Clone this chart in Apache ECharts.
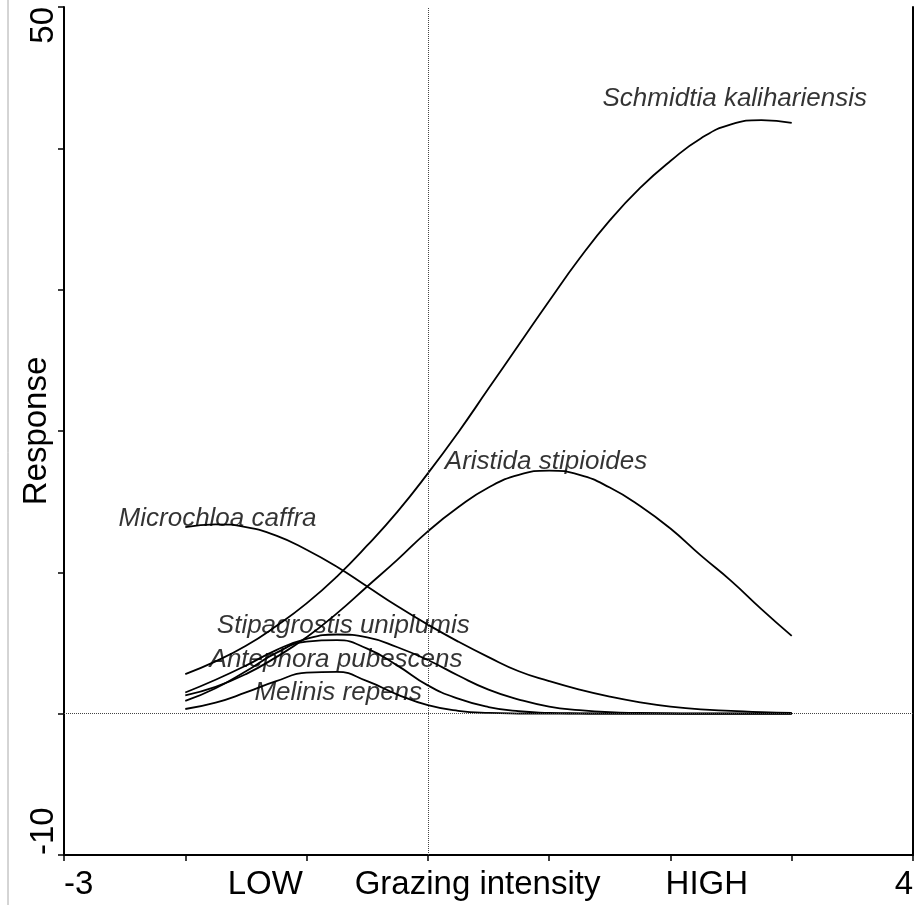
<!DOCTYPE html>
<html>
<head>
<meta charset="utf-8">
<script src="https://cdn.jsdelivr.net/npm/echarts@6/dist/echarts.min.js"></script>
<style>
  html, body { margin: 0; padding: 0; background: #fff; }
  #chart { width: 917px; height: 905px; }
</style>
</head>
<body>
<div id="chart"></div>
<script>
// grazing intensity, -2 .. 3 in steps of 0.25
var xs = [-2, -1.75, -1.5, -1.25, -1, -0.75, -0.5, -0.25, 0, 0.25, 0.5, 0.75, 1, 1.25, 1.5, 1.75, 2, 2.25, 2.5, 2.75, 3];

var schmidtia    = [2.8, 3.7, 4.8, 6.2, 7.8, 9.7, 11.9, 14.3, 17.0, 19.9, 23.0, 26.1, 29.2, 32.2, 34.9, 37.2, 39.1, 40.7, 41.7, 42.0, 41.8];
var aristida     = [1.3, 1.9, 2.8, 4.0, 5.4, 7.1, 9.0, 10.9, 12.9, 14.6, 16.0, 16.9, 17.2, 16.9, 16.0, 14.7, 13.1, 11.2, 9.4, 7.4, 5.5];
var microchloa   = [13.2, 13.4, 13.2, 12.6, 11.6, 10.4, 9.0, 7.6, 6.3, 5.1, 4.0, 3.0, 2.3, 1.7, 1.2, 0.8, 0.5, 0.3, 0.2, 0.1, 0.05];
var stipagrostis = [1.5, 2.4, 3.4, 4.5, 5.3, 5.6, 5.4, 4.7, 3.8, 2.7, 1.7, 1.0, 0.5, 0.25, 0.1, 0.05, 0.02, 0, 0, 0, 0];
var antephora    = [0.9, 1.8, 3.0, 4.3, 5.1, 5.2, 4.6, 3.4, 2.0, 1.06, 0.47, 0.17, 0.06, 0.02, 0, 0, 0, 0, 0, 0, 0];
var melinis      = [0.33, 0.78, 1.5, 2.3, 2.9, 2.95, 2.3, 1.35, 0.6, 0.2, 0.05, 0.01, 0, 0, 0, 0, 0, 0, 0, 0, 0];

var species = ['Schmidtia kalihariensis', 'Aristida stipioides', 'Microchloa caffra',
               'Stipagrostis uniplumis', 'Antephora pubescens', 'Melinis repens'];
var curves = [schmidtia, aristida, microchloa, stipagrostis, antephora, melinis];
// where each species name starts (left edge, text middle), in data units
var labelAt = [[1.44, 43.5], [0.14, 17.8], [-2.55, 13.8], [-1.74, 6.2], [-1.8, 3.8], [-1.43, 1.5]];

var xTicks = [-3, -2, -1, 0, 1, 2, 3, 4];
var xLabelValues = [-3, -1.34, 0.41, 2.3, 4];
var xLabelTexts = ['-3', 'LOW', 'Grazing intensity', 'HIGH', '4'];
var yLabelValues = [-10, 50];

var font = '"Liberation Sans", Arial, sans-serif';

function pairs(ys) {
    var d = [];
    for (var i = 0; i < xs.length; i++) d.push([xs[i], ys[i]]);
    return d;
}

var series = [];
for (var k = 0; k < curves.length; k++) {
    series.push({
        name: species[k],
        type: 'line',
        data: pairs(curves[k]),
        smooth: 0.5,
        symbol: 'none',
        lineStyle: { color: '#000', width: 1.8 },
        z: 3
    });
}
series[0].markLine = {
    silent: true,
    symbol: 'none',
    label: { show: false },
    lineStyle: { color: '#444', width: 1, type: 'dotted' },
    data: [{ yAxis: 0 }, { xAxis: 0 }]
};
series.push({
    type: 'scatter',
    data: labelAt,
    symbolSize: 0,
    silent: true,
    label: {
        show: true,
        position: 'right',
        distance: 0,
        formatter: function (p) { return species[p.dataIndex]; },
        fontFamily: font,
        fontStyle: 'italic',
        fontSize: 26,
        color: '#000',
        textBorderWidth: 0
    },
    z: 4
});

var mychart = echarts.init(document.getElementById('chart'));
var option = {
    animation: false,
    backgroundColor: '#fff',
    grid: { left: 64, right: 4, top: 7, bottom: 50, containLabel: false, outerBoundsMode: 'none' },
    xAxis: {
        type: 'value',
        min: -3,
        max: 4,
        interval: 1,
        splitLine: { show: false },
        axisLine: { onZero: false, lineStyle: { color: '#000', width: 2 } },
        axisTick: { show: true, length: 6, customValues: xTicks, lineStyle: { color: '#000', width: 1.5 } },
        axisLabel: {
            customValues: xLabelValues,
            formatter: function (v) {
                var best = 0;
                for (var i = 1; i < xLabelValues.length; i++) {
                    if (Math.abs(xLabelValues[i] - v) < Math.abs(xLabelValues[best] - v)) best = i;
                }
                return xLabelTexts[best];
            },
            alignMinLabel: 'left',
            alignMaxLabel: 'right',
            margin: 13,
            fontFamily: font,
            fontSize: 33,
            color: '#000'
        }
    },
    yAxis: [{
        type: 'value',
        min: -10,
        max: 50,
        interval: 10,
        name: 'Response',
        nameLocation: 'middle',
        nameRotate: 90,
        nameGap: 11,
        nameMoveOverlap: false,
        nameTextStyle: { fontFamily: font, fontSize: 33, color: '#000' },
        splitLine: { show: false },
        axisLine: { onZero: false, lineStyle: { color: '#000', width: 2 } },
        axisTick: { show: true, length: 6, lineStyle: { color: '#000', width: 1.5 } },
        axisLabel: {
            customValues: yLabelValues,
            rotate: 90,
            alignMinLabel: 'left',
            alignMaxLabel: 'right',
            margin: 4,
            fontFamily: font,
            fontSize: 33,
            color: '#000'
        }
    }, {
        type: 'value',
        position: 'right',
        min: -10,
        max: 50,
        interval: 10,
        splitLine: { show: false },
        axisLine: { show: true, onZero: false, lineStyle: { color: '#000', width: 2 } },
        axisTick: { show: false },
        axisLabel: { show: false }
    }],
    graphic: [{
        type: 'line',
        shape: { x1: 8, y1: 0, x2: 8, y2: 905 },
        style: { stroke: '#aaa', lineWidth: 1 },
        silent: true
    }],
    series: series
};
mychart.setOption(option);
</script>
</body>
</html>
